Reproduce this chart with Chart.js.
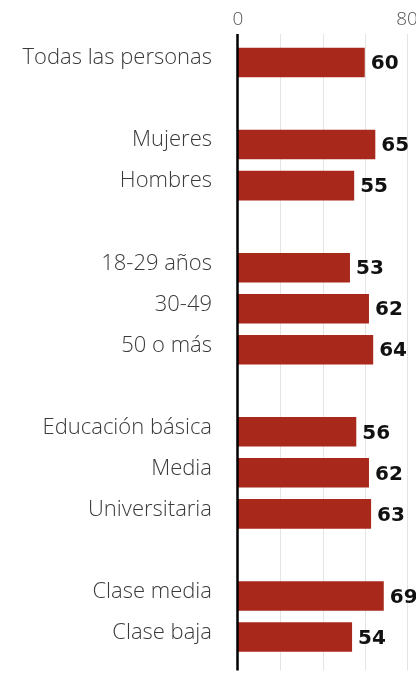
<!DOCTYPE html>
<html><head><meta charset="utf-8">
<script src="https://cdn.jsdelivr.net/npm/chart.js@4.4.1/dist/chart.umd.min.js"></script>
<style>html,body{margin:0;padding:0;background:#fff;overflow:hidden}#wrap{width:416px;height:673px;position:relative}</style>
</head><body><div id="wrap"><canvas id="c"></canvas></div>
<script>
const categories = ['Todas las personas', '', 'Mujeres', 'Hombres', '', '18-29 años', '30-49', '50 o más', '', 'Educación básica', 'Media', 'Universitaria', '', 'Clase media', 'Clase baja'];
const values = [60, null, 65, 55, null, 53, 62, 64, null, 56, 62, 63, null, 69, 54];
const xTicks = [0, 20, 40, 60, 80];
const xTickLabels = ['0', '', '', '', '80'];

const barColor = '#a8291b';

const decor = {
  id: 'decor',
  beforeDatasetsDraw(chart) {
    const ctx = chart.ctx, xs = chart.scales.x, a = chart.chartArea;
    ctx.save();
    ctx.strokeStyle = '#e4e4e4';
    ctx.lineWidth = 1;
    xTicks.forEach(v => {
      if (v === 0) return;
      const px = Math.round(xs.getPixelForValue(v)) + 0.5;
      ctx.beginPath(); ctx.moveTo(px, a.top - 8); ctx.lineTo(px, a.bottom + 13); ctx.stroke();
    });
    ctx.restore();
  },
  afterDatasetsDraw(chart) {
    const ctx = chart.ctx, xs = chart.scales.x, a = chart.chartArea;
    ctx.save();
    const px0 = xs.getPixelForValue(0) - 0.5;
    ctx.strokeStyle = '#000';
    ctx.lineWidth = 2.5;
    ctx.beginPath(); ctx.moveTo(px0, a.top - 8); ctx.lineTo(px0, a.bottom + 13); ctx.stroke();
    const meta = chart.getDatasetMeta(0);
    ctx.fillStyle = '#111';
    ctx.font = 'bold 20px "DejaVu Sans"';
    ctx.textAlign = 'left';
    ctx.textBaseline = 'middle';
    meta.data.forEach((bar, i) => {
      const v = values[i];
      if (v === null || v === undefined) return;
      ctx.fillText(String(v), bar.x + 6, bar.y + 1.5);
    });
    ctx.restore();
  }
};

new Chart(document.getElementById('c'), {
  type: 'bar',
  data: {
    labels: categories.map(c => [c, '']),
    datasets: [{
      data: values,
      backgroundColor: barColor,
      borderWidth: 0,
      barPercentage: 0.72,
      categoryPercentage: 1
    }]
  },
  options: {
    indexAxis: 'y',
    responsive: true,
    maintainAspectRatio: false,
    animation: false,
    layout: { padding: { top: 0, right: 9, bottom: 15.5, left: 0 } },
    plugins: { legend: { display: false }, tooltip: { enabled: false } },
    scales: {
      x: {
        position: 'top',
        min: 0, max: 80,
        afterBuildTicks(scale) { scale.ticks = xTicks.map(v => ({ value: v })); },
        ticks: {
          autoSkip: false,
          maxRotation: 0,
          padding: 11,
          color: '#555',
          font: { family: 'Open Sans', weight: '300', size: 19 },
          callback(v) { const i = xTicks.indexOf(v); return i >= 0 ? xTickLabels[i] : ''; }
        },
        grid: { display: false, drawTicks: false },
        border: { display: false },
        afterFit(scale) { scale.height = 42; scale.paddingLeft = 0; scale.paddingRight = 0; }
      },
      y: {
        ticks: {
          autoSkip: false,
          padding: 26,
          color: '#3a3a3a',
          font: { family: 'Open Sans', weight: '300', size: 22, lineHeight: 0.4 }
        },
        grid: { display: false, drawTicks: false },
        border: { display: false },
        afterFit(scale) { scale.width = 238; scale.paddingTop = 0; scale.paddingBottom = 0; }
      }
    }
  },
  plugins: [decor]
});
</script>
</body></html>
